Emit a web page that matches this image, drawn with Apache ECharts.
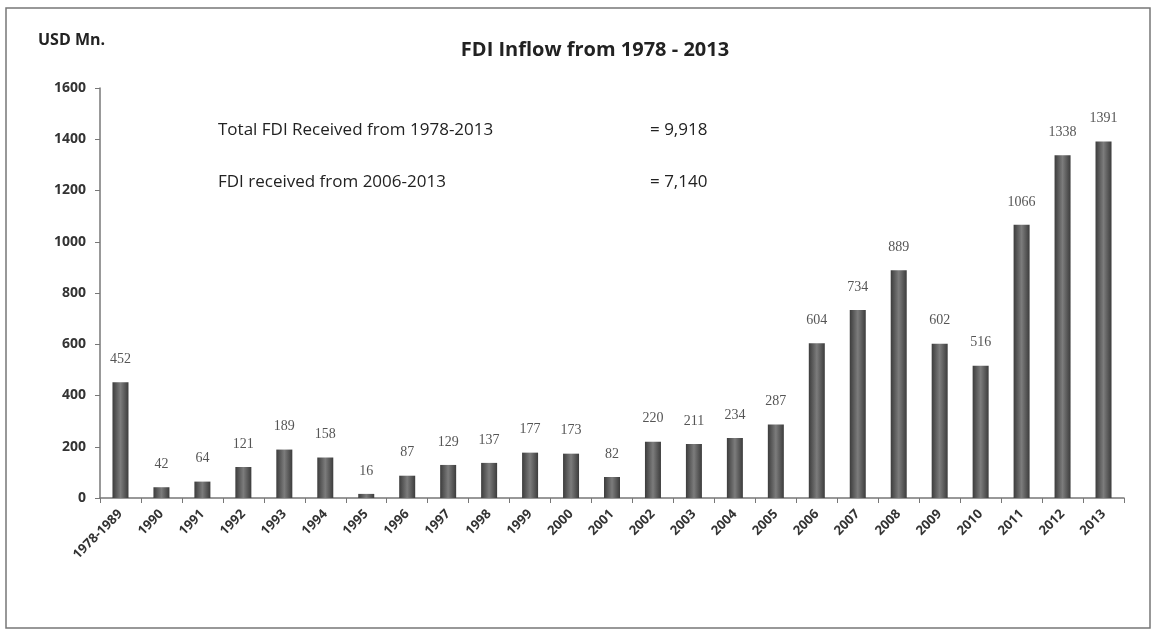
<!DOCTYPE html>
<html>
<head>
<meta charset="utf-8">
<script src="https://cdn.jsdelivr.net/npm/echarts@6/dist/echarts.min.js"></script>
<style>
    html, body { margin: 0; padding: 0; background: #ffffff; }
    #chart { width: 1156px; height: 632px; }
</style>
</head>
<body>
<div id="chart"></div>
<script>
// 数据
var categories = ['1978-1989', '1990', '1991', '1992', '1993', '1994', '1995', '1996', '1997', '1998',
    '1999', '2000', '2001', '2002', '2003', '2004', '2005', '2006', '2007', '2008', '2009', '2010',
    '2011', '2012', '2013'];
var fdiValues = [452, 42, 64, 121, 189, 158, 16, 87, 129, 137, 177, 173, 82, 220, 211, 234, 287,
    604, 734, 889, 602, 516, 1066, 1338, 1391];
var summaryLabels = ['Total FDI Received from 1978-2013', 'FDI received from 2006-2013'];
var summaryValues = ['= 9,918', '= 7,140'];

var myChart = echarts.init(document.getElementById('chart'));

var barColor = new echarts.graphic.LinearGradient(0, 0, 1, 0, [
    { offset: 0, color: '#3c3c3c' },
    { offset: 0.5, color: '#7c7c7c' },
    { offset: 1, color: '#3c3c3c' }
]);

var option = {
    backgroundColor: '#ffffff',
    animation: false,
    title: {
        text: 'FDI Inflow from 1978 - 2013',
        left: 590,
        top: 35,
        textAlign: 'center',
        textStyle: {
            fontFamily: 'Open Sans',
            fontSize: 20,
            fontWeight: 'bold',
            color: '#222'
        }
    },
    grid: {
        left: 100,
        right: 32,
        top: 88,
        bottom: 134
    },
    graphic: [
        {
            type: 'rect',
            shape: { x: 6, y: 8, width: 1144, height: 620 },
            style: { fill: 'none', stroke: '#777', lineWidth: 1.5 }
        },
        {
            type: 'text', left: 38, top: 32,
            style: { text: 'USD Mn.', font: 'bold 16px "Open Sans"', fill: '#222' }
        },
        {
            type: 'text', left: 218, top: 122,
            style: { text: summaryLabels[0], font: '17px "Open Sans"', fill: '#222' }
        },
        {
            type: 'text', left: 650, top: 122,
            style: { text: summaryValues[0], font: '17px "Open Sans"', fill: '#222' }
        },
        {
            type: 'text', left: 218, top: 174,
            style: { text: summaryLabels[1], font: '17px "Open Sans"', fill: '#222' }
        },
        {
            type: 'text', left: 650, top: 174,
            style: { text: summaryValues[1], font: '17px "Open Sans"', fill: '#222' }
        }
    ],
    xAxis: {
        type: 'category',
        data: categories,
        axisLine: { lineStyle: { color: '#777', width: 1.5 } },
        axisTick: { show: true, length: 5, lineStyle: { color: '#777' } },
        axisLabel: {
            rotate: 45,
            interval: 0,
            margin: 14,
            fontFamily: 'Open Sans',
            fontSize: 13,
            fontWeight: 'bold',
            color: '#333'
        }
    },
    yAxis: {
        type: 'value',
        min: 0,
        max: 1600,
        interval: 200,
        axisLine: { show: true, lineStyle: { color: '#777', width: 1.5 } },
        axisTick: { show: true, length: 5, lineStyle: { color: '#777' } },
        splitLine: { show: false },
        axisLabel: {
            margin: 14,
            formatter: function (v) { return String(v); },
            fontFamily: 'Open Sans',
            fontSize: 14,
            fontWeight: 'bold',
            color: '#333'
        }
    },
    series: [
        {
            name: 'FDI',
            type: 'bar',
            data: fdiValues,
            barWidth: 16,
            itemStyle: { color: barColor },
            label: {
                show: true,
                position: 'top',
                distance: 16,
                fontFamily: 'Liberation Serif',
                fontSize: 14,
                color: '#555'
            }
        }
    ]
};
myChart.setOption(option);
</script>
</body>
</html>
